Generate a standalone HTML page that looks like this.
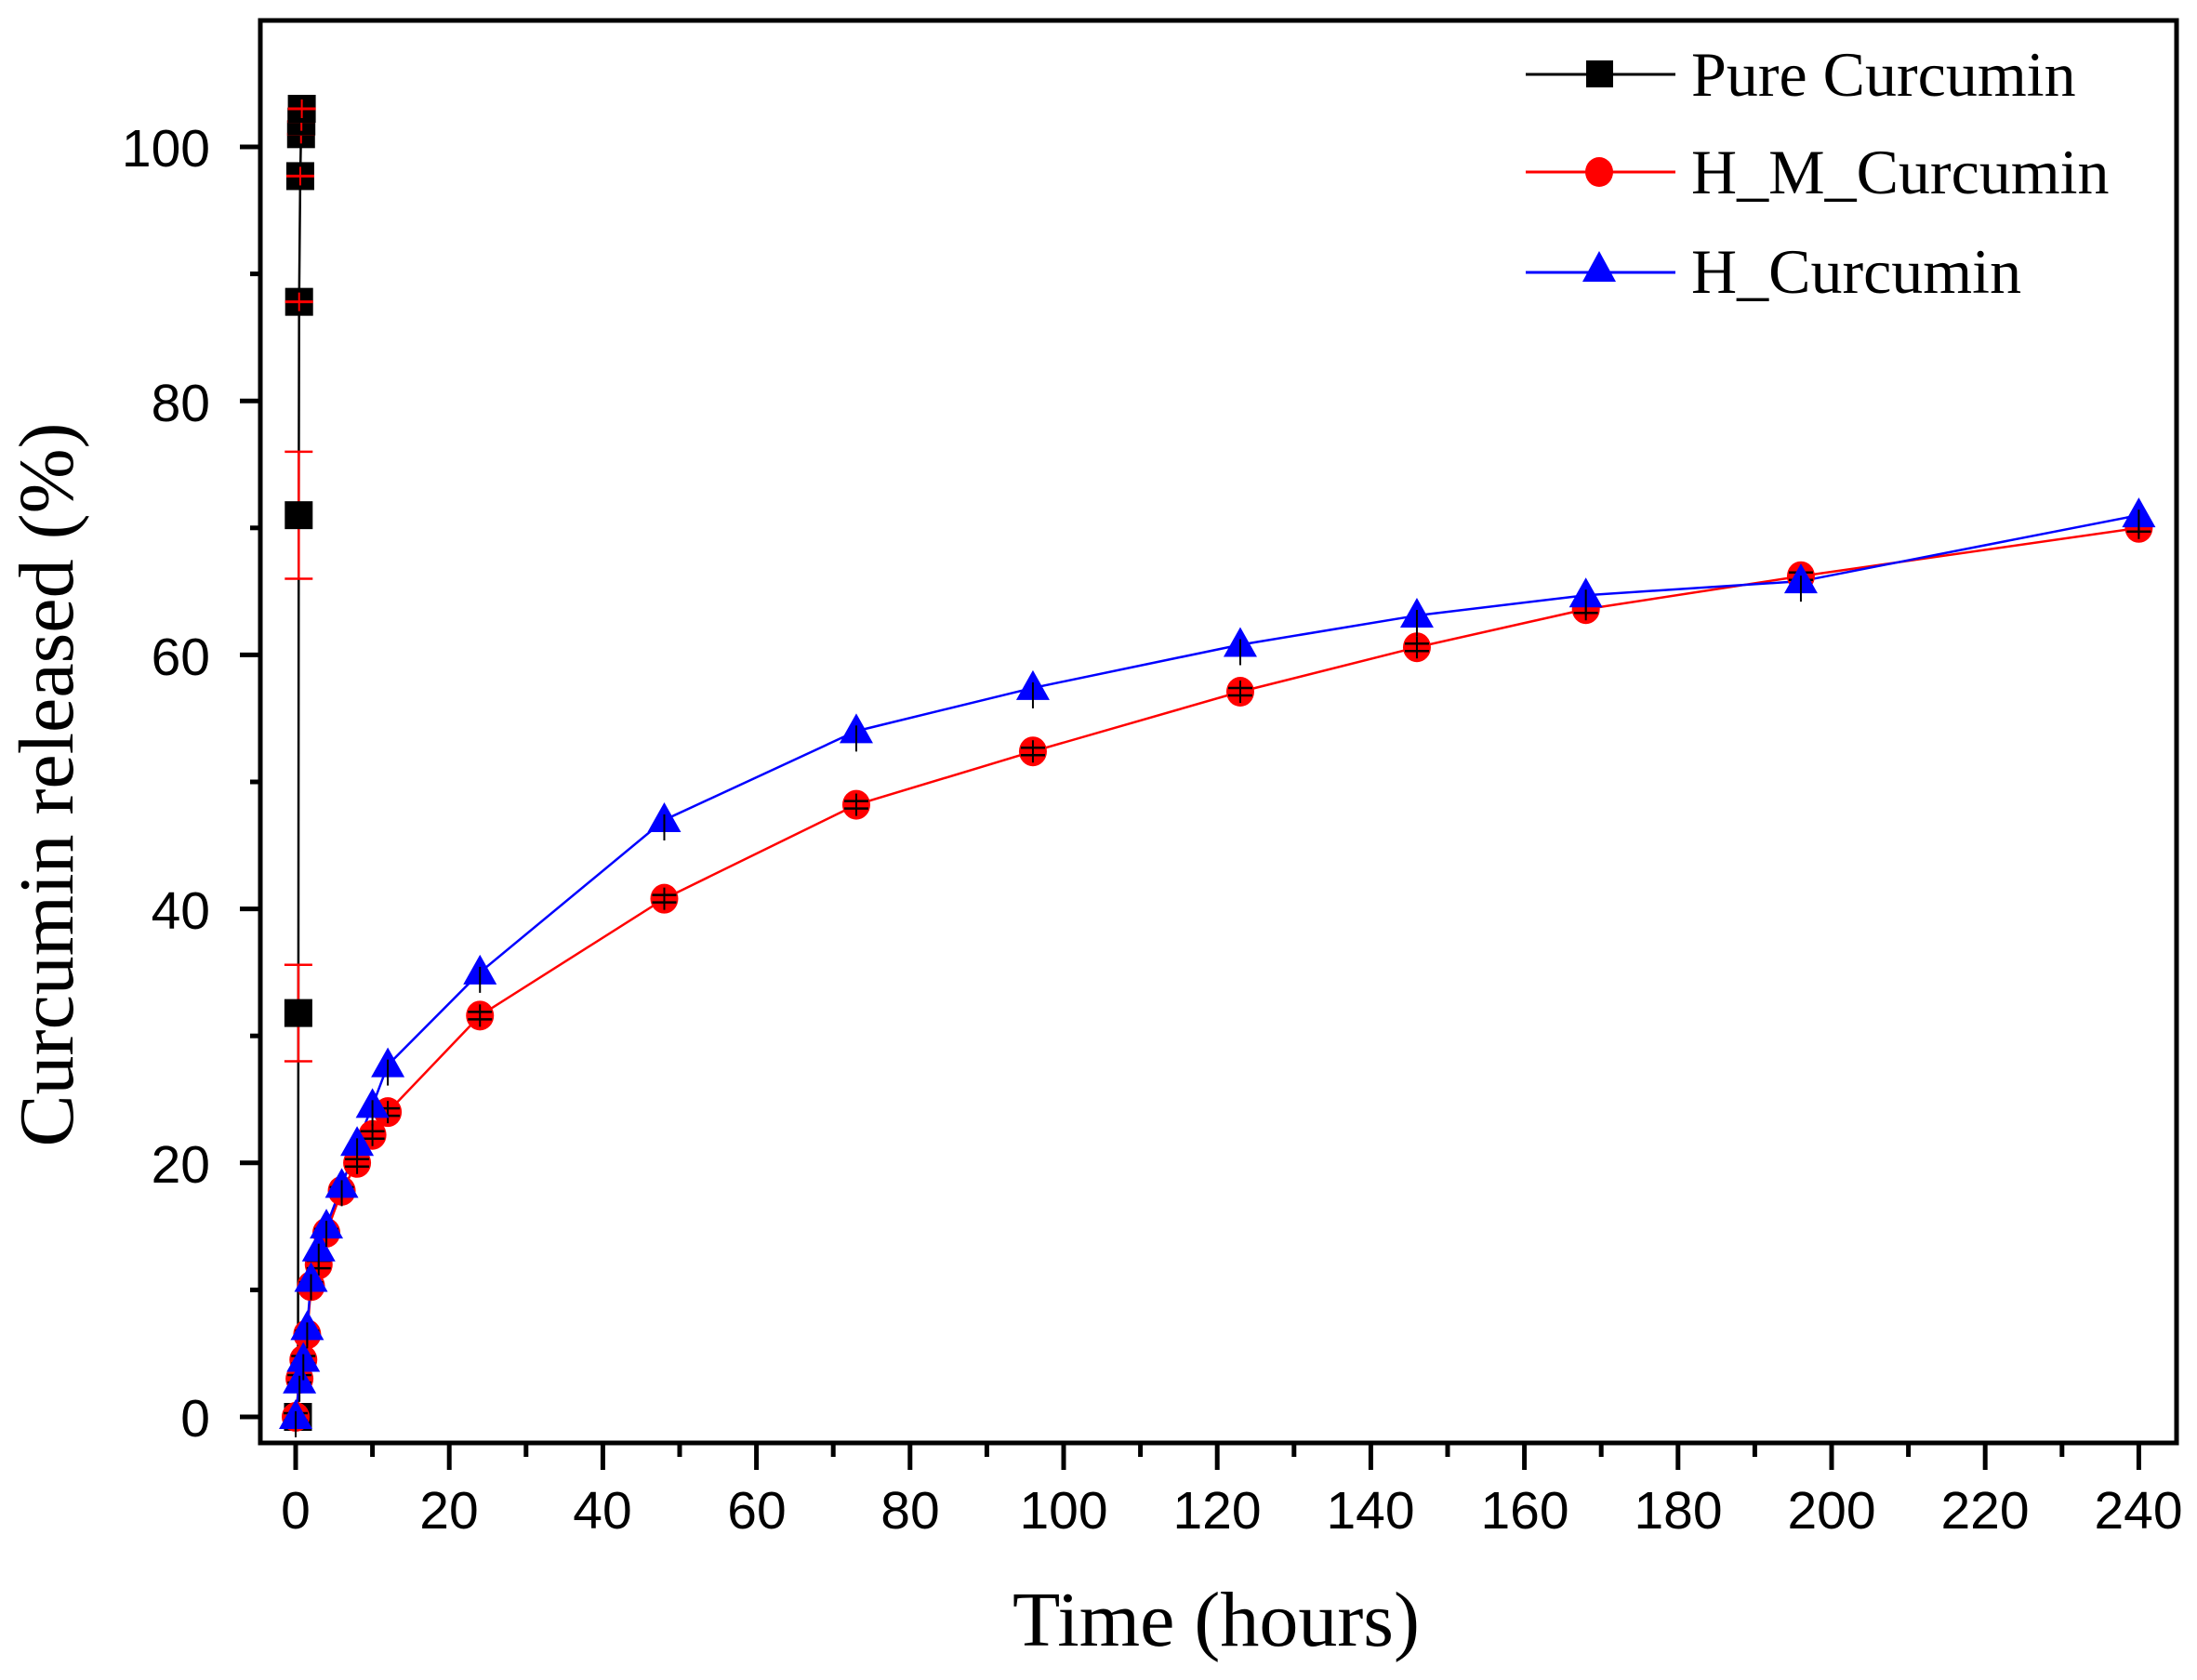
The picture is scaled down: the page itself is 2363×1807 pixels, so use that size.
<!DOCTYPE html>
<html><head><meta charset="utf-8"><style>html,body{margin:0;padding:0;background:#fff}svg{display:block}</style></head>
<body>
<svg id="s" width="2363" height="1807" viewBox="0 0 2363 1807" xmlns="http://www.w3.org/2000/svg">
<rect x="0" y="0" width="2363" height="1807" fill="#fff"/>
<g id="plot"></g>
<rect x="280" y="22" width="2061" height="1530" fill="none" stroke="#000" stroke-width="5"/>
<g id="ticks" stroke="#000" stroke-width="5"></g>
<g font-family="Liberation Sans, Arial, sans-serif" font-size="57" fill="#000" text-anchor="end">
<text x="226" y="1545">0</text>
<text x="226" y="1272">20</text>
<text x="226" y="999">40</text>
<text x="226" y="726">60</text>
<text x="226" y="453">80</text>
<text x="226" y="179">100</text>
</g>
<g font-family="Liberation Sans, Arial, sans-serif" font-size="57" fill="#000" text-anchor="middle">
<text x="318" y="1644">0</text>
<text x="483" y="1644">20</text>
<text x="648" y="1644">40</text>
<text x="814" y="1644">60</text>
<text x="979" y="1644">80</text>
<text x="1144" y="1644">100</text>
<text x="1309" y="1644">120</text>
<text x="1474" y="1644">140</text>
<text x="1640" y="1644">160</text>
<text x="1805" y="1644">180</text>
<text x="1970" y="1644">200</text>
<text x="2135" y="1644">220</text>
<text x="2300" y="1644">240</text>
</g>
<text x="1308" y="1770" font-family="Liberation Serif, Times New Roman, serif" font-size="84" text-anchor="middle">Time (hours)</text>
<text transform="translate(78,844) rotate(-90)" font-family="Liberation Serif, Times New Roman, serif" font-size="84" text-anchor="middle">Curcumin released (%)</text>
<g font-family="Liberation Serif, Times New Roman, serif" font-size="68" fill="#000">
<line x1="1641" y1="80" x2="1802" y2="80" stroke="#000" stroke-width="3"/>
<rect x="1706" y="65" width="29" height="29" fill="#000"/>
<text x="1819" y="103">Pure Curcumin</text>
<line x1="1641" y1="185" x2="1802" y2="185" stroke="#f00" stroke-width="3"/>
<ellipse cx="1720" cy="185" rx="15" ry="16" fill="#f00"/>
<text x="1819" y="208">H_M_Curcumin</text>
<line x1="1641" y1="293" x2="1802" y2="293" stroke="#00f" stroke-width="3"/>
<polygon points="1720,270 1702,303 1738,303" fill="#00f"/>
<text x="1819" y="315">H_Curcumin</text>
</g>
<script>
(function(){
var NS="http://www.w3.org/2000/svg";
function X(t){return 318+8.26*t;}function Y(v){return 1524-13.66*v;}
function el(p,n,a){var e=document.createElementNS(NS,n);for(var k in a)e.setAttribute(k,a[k]);p.appendChild(e);return e;}
var tk=document.getElementById('ticks');
for(var v=0;v<=100;v+=10){var y=Y(v);el(tk,'line',{x1:280-(v%20==0?22:11),y1:y,x2:280,y2:y});}
for(var t=0;t<=240;t+=10){var x=X(t);el(tk,'line',{x1:x,y1:1552,x2:x,y2:1552+(t%20==0?29:15)});}
var g=document.getElementById('plot');
var pure=[[0.3,0],[0.35,31.8],[0.4,71],[0.45,87.8],[0.6,97.7],[0.7,101],[0.75,102],[0.8,103]];
var hm=[[0,0],[0.5,3],[1,4.5],[1.5,6.5],[2,10.3],[3,12],[4,14.5],[6,17.8],[8,20],[10,22.2],[12,24],[24,31.6],[48,40.8],[73,48.2],[96,52.4],[123,57.1],[146,60.6],[168,63.6],[196,66.2],[240,70]];
var hc=[[0,0],[0.5,2.8],[1,4.5],[1.5,7],[2,10.8],[3,13.2],[4,15],[6,18.2],[8,21.5],[10,24.5],[12,27.7],[24,35],[48,47],[73,54],[96,57.4],[123,60.8],[146,63.1],[168,64.7],[196,65.8],[240,71]];
function pl(d,c){el(g,'polyline',{points:d.map(function(p){return X(p[0])+','+Y(p[1]);}).join(' '),fill:'none',stroke:c,'stroke-width':2.5});}
pl(pure,'#000');pl(hm,'#f00');pl(hc,'#00f');
[[0.35,31.8,3.8],[0.4,71,5]].forEach(function(p){var x=X(p[0]);el(g,'line',{x1:x,y1:Y(p[1]-p[2]),x2:x,y2:Y(p[1]+p[2]),stroke:'#f00','stroke-width':2.5});
[p[1]-p[2],p[1]+p[2]].forEach(function(v){el(g,'line',{x1:x-15,y1:Y(v),x2:x+15,y2:Y(v),stroke:'#f00','stroke-width':2.5});});});
pure.forEach(function(p){var x=X(p[0]),y=Y(p[1]);el(g,'rect',{x:x-15,y:y-15,width:30,height:30,fill:'#000'});
if(p[1]>80){el(g,'line',{x1:x-15,y1:y,x2:x+15,y2:y,stroke:'#f00','stroke-width':3});el(g,'line',{x1:x,y1:y-10,x2:x,y2:y+10,stroke:'#f00','stroke-width':2});}});
hm.forEach(function(p){var x=X(p[0]),y=Y(p[1]);el(g,'ellipse',{cx:x,cy:y,rx:15,ry:16,fill:'#f00'});
el(g,'line',{x1:x-13,y1:y-4,x2:x+13,y2:y-4,stroke:'#000','stroke-width':2.5});el(g,'line',{x1:x-13,y1:y+4,x2:x+13,y2:y+4,stroke:'#000','stroke-width':2.5});el(g,'line',{x1:x,y1:y-12,x2:x,y2:y+12,stroke:'#000','stroke-width':2});});
hc.forEach(function(p){var x=X(p[0]),y=Y(p[1]);el(g,'polygon',{points:x+','+(y-19)+' '+(x-18)+','+(y+13)+' '+(x+18)+','+(y+13),fill:'#00f'});
el(g,'line',{x1:x,y1:y-6,x2:x,y2:y+22,stroke:'#000','stroke-width':2});});
})();
</script>
</svg>
</body></html>
